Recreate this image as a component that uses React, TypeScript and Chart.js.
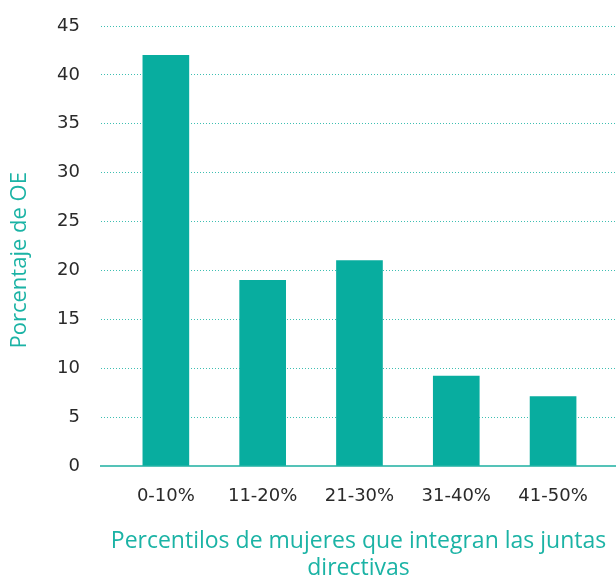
import React, { useEffect, useRef } from "react";
import { Chart, registerables } from "chart.js";

Chart.register(...registerables);

const categories = ["0-10%", "11-20%", "21-30%", "31-40%", "41-50%"];
const values = [42, 19, 21, 9.2, 7.1];
const yTicks = [0, 5, 10, 15, 20, 25, 30, 35, 40, 45];
const xTitle = ["Percentilos de mujeres que integran las juntas", "directivas"];
const yTitle = "Porcentaje de OE";

const TEAL = "#08ad9f";
const TITLE_TEAL = "#1bb3a5";

export default function App() {
  const ref = useRef<HTMLCanvasElement | null>(null);
  useEffect(() => {
    document.body.style.margin = "0";
    const canvas = ref.current;
    if (!canvas) return;
    const chart = new Chart(canvas, {
      type: "bar",
      data: {
        datasets: [
          {
            data: values.map((v, i) => ({ x: i, y: v })),
            backgroundColor: TEAL,
            barThickness: 46,
            borderWidth: 0,
          },
        ],
      },
      options: {
        responsive: false,
        animation: false,
        devicePixelRatio: 1,
        layout: { padding: { top: 26, left: 0, right: 0, bottom: 0 } },
        plugins: { legend: { display: false }, tooltip: { enabled: false } },
        scales: {
          x: {
            type: "linear",
            min: -0.67,
            max: 4.65,
            offset: false,
            bounds: "data",
            grid: { display: false, offset: false },
            border: { display: true, color: "#55c3b8", width: 2 },
            afterBuildTicks: (scale: any) => {
              scale.ticks = categories.map((_, i) => ({ value: i }));
            },
            afterFit: (scale: any) => {
              scale.height = 110;
              scale.paddingLeft = 0;
              scale.paddingRight = 0;
            },
            ticks: {
              autoSkip: false,
              maxRotation: 0,
              padding: 12,
              color: "#2a2a2a",
              font: { family: "'DejaVu Sans'", size: 18 },
              callback: (value: any) => categories[value as number] ?? "",
            },
            title: {
              display: true,
              text: xTitle,
              color: TITLE_TEAL,
              font: { family: "'Open Sans'", size: 23, lineHeight: 1.17 },
              padding: { top: 0, bottom: -6 },
            },
          },
          y: {
            min: 0,
            max: 45,
            afterBuildTicks: (scale: any) => {
              scale.ticks = yTicks.map((v) => ({ value: v }));
            },
            afterFit: (scale: any) => {
              scale.width = 101;
              scale.paddingTop = 0;
              scale.paddingBottom = 0;
            },
            grid: {
              color: "#3dbfb2",
              lineWidth: 1,
              drawTicks: false,
            },
            border: { display: false, dash: [1, 2] },
            ticks: {
              padding: 21,
              color: "#2a2a2a",
              font: { family: "'DejaVu Sans'", size: 18 },
            },
            title: {
              display: true,
              text: yTitle + "     ",
              color: TITLE_TEAL,
              font: { family: "'Open Sans'", size: 22, lineHeight: 1.2 },
              padding: { top: 7, bottom: 0 },
            },
          },
        },
      },
    });
    return () => chart.destroy();
  }, []);
  return (
    <div style={{ position: "absolute", left: 0, top: 0, width: 616, height: 576 }}>
      <canvas ref={ref} width={616} height={576} />
    </div>
  );
}
